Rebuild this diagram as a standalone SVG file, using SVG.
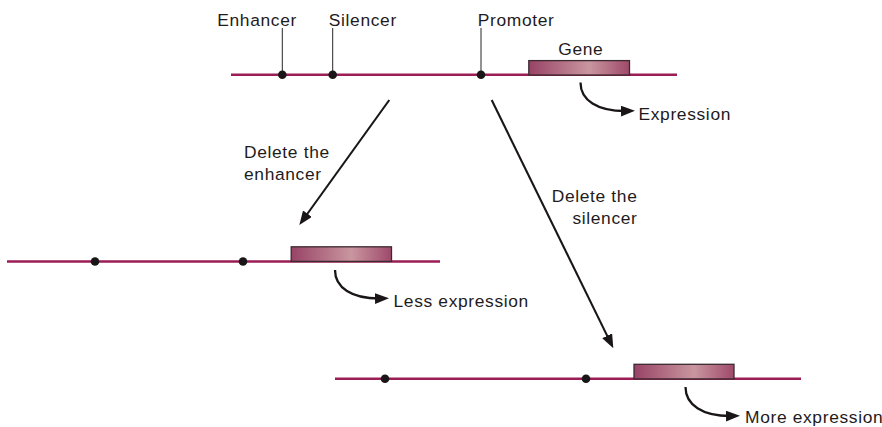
<svg xmlns="http://www.w3.org/2000/svg" width="882" height="427" viewBox="0 0 882 427">
  <style>
    .dna { stroke: #9a1d55; stroke-width: 2.6; fill: none; }
    .dot { fill: #1a1617; }
    .lead { stroke: #2a2526; stroke-width: 1; }
    .gene { fill: url(#geneGrad); stroke: #3b2a30; stroke-width: 1.3; }
    .lbl { font-family: "Liberation Sans", Arial, sans-serif; font-size: 17.4px; letter-spacing: 0.65px; fill: #1f1b1c; }
    .end { text-anchor: end; }
    .conn { stroke: #1a1617; stroke-width: 2.1; fill: none; marker-end: url(#arrow); }
    .expr { stroke: #1a1617; stroke-width: 2.3; fill: none; marker-end: url(#arrow); }
  </style>
  <defs>
    <linearGradient id="geneGrad" x1="0" y1="0" x2="1" y2="0">
      <stop offset="0" stop-color="#984366"/>
      <stop offset="0.6" stop-color="#c9969f"/>
      <stop offset="1" stop-color="#9f496b"/>
    </linearGradient>
    <marker id="arrow" markerUnits="userSpaceOnUse" markerWidth="14" markerHeight="12" refX="6" refY="5.5" orient="auto">
      <path d="M0,0 L14,5.5 L0,11 z" fill="#1a1617"/>
    </marker>
  </defs>

  <rect width="882" height="427" fill="#ffffff"/>

  <g id="strand-original">
    <line class="dna" x1="231" y1="74.7" x2="677" y2="74.7"/>
    <line class="lead" x1="282.3" y1="28" x2="282.3" y2="74"/>
    <line class="lead" x1="332.7" y1="28" x2="332.7" y2="74"/>
    <line class="lead" x1="481" y1="28" x2="481" y2="74"/>
    <circle class="dot" cx="282.3" cy="74.7" r="4.3"/>
    <circle class="dot" cx="332.7" cy="74.7" r="4.3"/>
    <circle class="dot" cx="481" cy="74.7" r="4.3"/>
    <rect class="gene" x="528.8" y="60.6" width="100.7" height="14.4"/>
    <text class="lbl" x="217.3" y="25.5">Enhancer</text>
    <text class="lbl" x="328.8" y="25.5">Silencer</text>
    <text class="lbl" x="477.8" y="25.5">Promoter</text>
    <text class="lbl" x="558.3" y="55">Gene</text>
    <path class="expr" d="M580.5,82.5 C580.5,100 597,111.5 627,111"/>
    <text class="lbl" x="638.5" y="119.5">Expression</text>
  </g>

  <g id="strand-no-enhancer">
    <line class="dna" x1="7" y1="261.5" x2="440" y2="261.5"/>
    <circle class="dot" cx="95" cy="261.5" r="4.3"/>
    <circle class="dot" cx="243" cy="261.5" r="4.3"/>
    <rect class="gene" x="291.2" y="246.8" width="100.3" height="14.6"/>
    <path class="expr" d="M335,270 C335,287.5 351.5,299 381,298.5"/>
    <text class="lbl" x="393.5" y="307">Less expression</text>
  </g>

  <g id="strand-no-silencer">
    <line class="dna" x1="335" y1="378.7" x2="801" y2="378.7"/>
    <circle class="dot" cx="385" cy="378.7" r="4.3"/>
    <circle class="dot" cx="586" cy="378.7" r="4.3"/>
    <rect class="gene" x="634" y="364.3" width="100" height="14.6"/>
    <path class="expr" d="M685.5,387 C685.5,404.5 702,416.5 732,416"/>
    <text class="lbl" x="745" y="423.3">More expression</text>
  </g>

  <g id="label-delete-enhancer">
    <text class="lbl" x="244" y="157.5">Delete the</text>
    <text class="lbl" x="244" y="179.5">enhancer</text>
  </g>

  <g id="label-delete-silencer">
    <text class="lbl end" x="637.5" y="201.5">Delete the</text>
    <text class="lbl end" x="637.5" y="223.5">silencer</text>
  </g>

  <g id="connectors">
    <line class="conn" x1="389.3" y1="100" x2="304" y2="218.5"/>
    <line class="conn" x1="491.7" y1="100" x2="609.8" y2="341.1"/>
  </g>
</svg>
